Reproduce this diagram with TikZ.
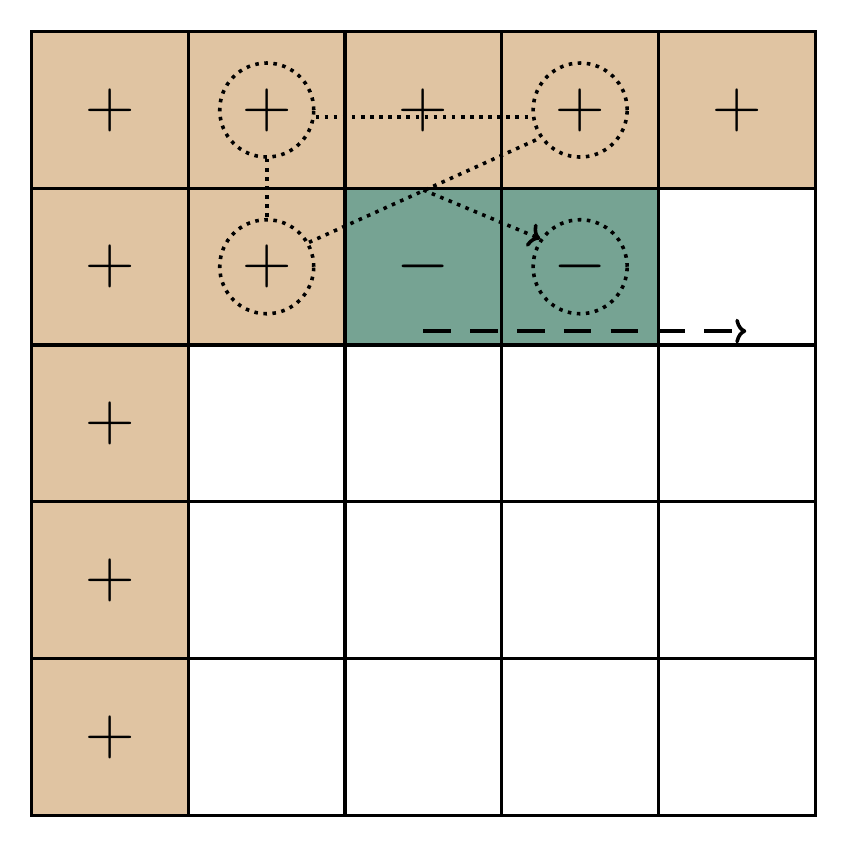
\documentclass[tikz,border=0pt]{standalone}
\usepackage{tikz}
\usetikzlibrary{positioning,calc,arrows.meta}
\definecolor{tan}{HTML}{E0C4A2}
\definecolor{sea}{HTML}{76A393}
\tikzset{cellbox/.style={rectangle,draw=black,line width=1.2pt,minimum size=2cm,inner sep=0pt},
  sign/.style={font=\fontsize{32}{32}\selectfont},
  ring/.style={circle,draw,dotted,line width=1.3pt,minimum size=1.2cm,inner sep=0pt},
  trail/.style={dotted,line width=1.3pt},
  line/.style={-{To[length=4pt,width=9pt]},line width=1.3pt}}
\begin{document}
\begin{tikzpicture}[x=2cm,y=-2cm]
        \useasboundingbox (-0.202,-0.202) rectangle (5.202,5.209);
        % cells
        \foreach \i in {0,...,4}
          \foreach \j in {0,...,4}
            \node[cellbox,fill=white] (c\i\j) at (\i+0.5,\j+0.5) {};
        \foreach \i/\j in {0/0,1/0,2/0,3/0,4/0,0/1,1/1,0/2,0/3,0/4}
            \node[cellbox,fill=tan] (c\i\j) at (\i+0.5,\j+0.5) {};
        \foreach \i/\j in {2/1,3/1}
            \node[cellbox,fill=sea] (c\i\j) at (\i+0.5,\j+0.5) {};
        % signs
        \foreach \i/\j in {0/0,1/0,2/0,3/0,4/0,0/1,1/1,0/2,0/3,0/4}
            \node[sign] (s\i\j) at (c\i\j) {$+$};
        \foreach \i/\j in {2/1,3/1}
            \node[sign] (s\i\j) at (c\i\j) {$-$};
        % circles
        \foreach \i/\j in {1/0,3/0,1/1,3/1}
            \node[ring] (r\i\j) at (c\i\j) {};
        % path
        \coordinate (k) at (c20.south);
        \draw[trail] (r10.south) -- (r11.north);
        \draw[trail] ($(r10.east)+(0,0.045)$) -- ($(r30.west)+(0,0.045)$);
        \draw[trail] (r11.30) -- (r30.215);
        \draw[trail,line] (k) -- (r31.145);
        \coordinate (d0) at ($(c21.south)+(0,-0.1)$);
        \coordinate (d1) at ($(c41.south)+(0.06,-0.1)$);
        \draw[line,dash pattern=on 10pt off 7pt] (d0) -- (d1);
    \end{tikzpicture}
\end{document}
